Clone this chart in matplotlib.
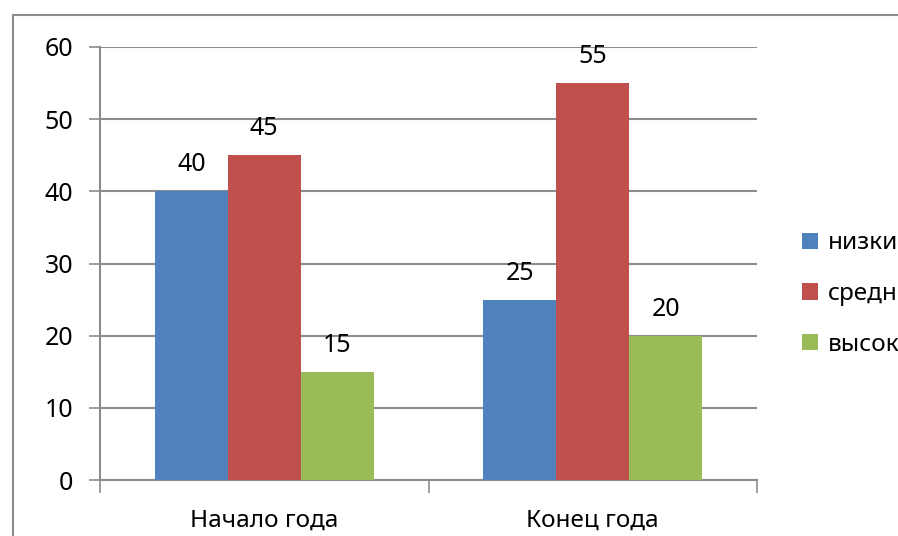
import matplotlib.pyplot as plt
import matplotlib.patches as patches
import numpy as np

categories = ["Начало года", "Конец года"]
series_names = ["низкий", "средний", "высокий"]
low = [40, 25]
mid = [45, 55]
high = [15, 20]

colors = ["#4F81BD", "#C0504D", "#9BBB59"]
grid_color = "#8C8C8C"

plt.rcParams['font.family'] = ['Noto Sans', 'DejaVu Sans']

fig = plt.figure(figsize=(8.98, 5.36), dpi=100)
ax = fig.add_axes([100 / 898, 1 - 480 / 536, 657 / 898, 433 / 536])

# outer chart border (cropped on right and bottom like the reference)
fig.patches.append(patches.Rectangle((13 / 898, -0.1), 1.2, 1 - 15 / 536 + 0.1,
                                     transform=fig.transFigure, fill=False,
                                     edgecolor="#8C8C8C", linewidth=1.5))

x = np.arange(len(categories))
width = 0.222
for i, (vals, name) in enumerate(zip([low, mid, high], series_names)):
    rects = ax.bar(x + (i - 1) * width, vals, width, color=colors[i], label=name, zorder=3)
    ax.bar_label(rects, padding=10, fontsize=18)

ax.set_xlim(-0.5, 1.5)
ax.set_ylim(0, 60)
ax.set_yticks(range(0, 61, 10))
ax.yaxis.grid(True, color=grid_color, linewidth=1.5, zorder=0)
ax.tick_params(axis='y', length=8, width=1.2, color=grid_color, labelsize=18, pad=11)

# category ticks sit between groups, labels centered under groups
ax.set_xticks([-0.5, 0.5, 1.5])
ax.set_xticklabels([])
ax.set_xticks(x, minor=True)
ax.set_xticklabels(categories, minor=True, fontsize=17.5)
ax.tick_params(axis='x', which='major', length=9, width=1.2, color=grid_color, direction='out')
ax.tick_params(axis='x', which='minor', length=0, pad=21)

for s in ["top", "right"]:
    ax.spines[s].set_visible(False)
for s in ["left", "bottom"]:
    ax.spines[s].set_color(grid_color)
    ax.spines[s].set_linewidth(1.5)

ax.legend(loc="center left", bbox_to_anchor=(780 / 898, 1 - 294 / 536),
          bbox_transform=fig.transFigure, frameon=False, fontsize=17.5,
          handlelength=0.65, handleheight=0.65, handletextpad=0.4, labelspacing=1.1)

fig.savefig("out.png", dpi=100)
